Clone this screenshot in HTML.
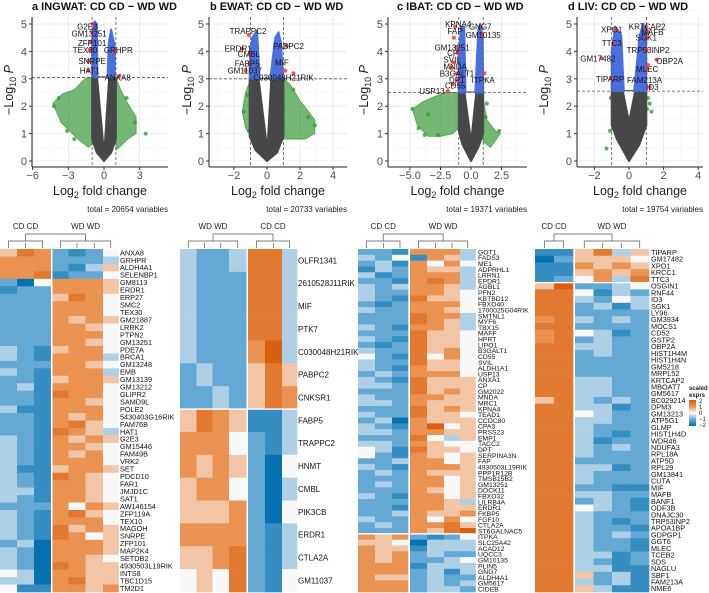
<!DOCTYPE html>
<html><head><meta charset="utf-8"><style>
html,body{margin:0;padding:0;background:#fff;}
svg{display:block;font-family:"Liberation Sans",Arial,sans-serif;}
</style></head><body>
<svg id="fig" width="709" height="593" viewBox="0 0 709 593" xmlns="http://www.w3.org/2000/svg"></svg>
<script>
// ---------- VOLCANO DATA ----------
const titlesV = ["a  INGWAT: CD CD \u2212 WD WD","b  EWAT: CD CD \u2212 WD WD","c  IBAT: CD CD \u2212 WD WD","d  LIV: CD CD \u2212 WD WD"];
const totalsV = ["total = 20654 variables","total = 20733 variables","total = 19371 variables","total = 19754 variables"];
const xTicksA = [-6,-3,0,3];
const xTicksB = [-2,0,2,4];
const xTicksC = [-5,-2.5,0,2.5];
const xTicksD = [-2,0,2,4];
const xTickLabelsC = ["\u22125.0","\u22122.5","0.0","2.5"];
const yTicks = [0,1,2,3,4,5];
const thresholds = [3.05,3.0,2.5,2.55];
const grayA = [[0,0],[-0.6,0.3],[-1,0.8],[-1,3.05],[1,3.05],[1,0.8],[0.6,0.3]];
const grayB = [[0,0],[-0.7,0.4],[-1.05,0.9],[-1.05,3.0],[1,3.0],[1,0.9],[0.6,0.3]];
const grayC = [[0,0],[-0.7,0.6],[-1,1.1],[-1,2.5],[1,2.5],[1,1.0],[0.6,0.5]];
const grayD = [[0,0],[-0.7,0.8],[-1,1.3],[-1,2.55],[1,2.55],[1,1.3],[0.6,0.6]];
const holeA = [[-0.5,3.05],[0,0.7],[0.35,3.05]];
const holeB = [[-0.45,3.0],[0,0.8],[0.2,3.0]];
const holeC = [[-0.45,2.5],[0,1.0],[0.35,2.5]];
const holeD = [[-0.3,2.55],[0,1.6],[0.3,2.55]];
const blueA = [[[-1,3.05],[-1,4.4],[-0.8,5.1],[-0.6,5.0],[-0.55,3.05]],[[0.3,3.05],[0.4,4.3],[0.6,4.8],[0.9,4.2],[0.9,3.05]]];
const blueB = [[[-1.05,3.0],[-1.05,3.6],[-0.9,4.5],[-0.6,4.75],[-0.45,3.0]],[[0.2,3.0],[0.5,4.5],[0.7,4.7],[0.85,4.3],[0.95,3.0]]];
const blueC = [[[-1,2.5],[-1,4.0],[-0.8,4.9],[-0.55,4.9],[-0.45,2.5]],[[0.35,2.5],[0.6,4.8],[0.75,5.0],[0.95,4.6],[1.0,2.5]]];
const blueD = [[[-1,2.55],[-1,4.0],[-0.8,4.9],[-0.45,4.6],[-0.3,2.55]],[[0.3,2.55],[0.6,4.5],[0.8,5.0],[1.0,4.8],[1.0,2.55]]];
const greenA = [[[-1,3.05],[-1.6,3.0],[-2.5,2.6],[-3.5,2.45],[-4.3,2.1],[-3.6,1.4],[-2.2,0.8],[-1.3,0.5],[-1,0.6]],[[1,3.05],[1.4,2.6],[2,2.1],[2.7,1.6],[2.7,1.0],[2,0.8],[1.3,0.5],[1,0.4]]];
const greenB = [[[-1.05,2.9],[-1.3,2.5],[-1.5,1.8],[-1.3,1.2],[-1.05,1.0]],[[1,3.0],[1.4,2.8],[2,2.2],[2.9,1.5],[2.9,1.0],[2.3,0.8],[1.5,0.8],[1,0.8]]];
const greenC = [[[-1,2.5],[-2,2.5],[-3,2.35],[-4,2.15],[-4.8,1.9],[-4.4,1.3],[-3.5,0.9],[-2.5,0.9],[-1.5,1.0],[-1,1.2]],[[1,2.3],[1.3,1.5],[2,1.1],[2.4,1.0],[1.6,0.5],[1,0.7]]];
const greenD = [];
const greenPtsA = [[-3.8,2.3],[-4.2,2.0],[-3.1,1.1],[3.5,1.0],[2.6,1.4],[-2.5,0.8],[1.9,2.3]];
const greenPtsB = [[-1.4,1.8],[-1.2,2.4],[2.9,1.3],[2.5,1.6],[1.6,2.6],[-1.1,1.1]];
const greenPtsC = [[-4.8,1.9],[-4.3,1.2],[-3.8,0.95],[-2.7,0.95],[2.3,1.1],[1.3,2.1],[1.2,1.6],[-3.5,1.7]];
const greenPtsD = [[-1.1,1.1],[-1.3,0.45],[1.1,2.3],[1.2,2.1],[1.3,1.8],[-1.05,2.3],[1.05,1.9]];
const labA = [["G2E3",-0.95,5.0,-1.4,4.9],["GM13251",-1.0,4.7,-1.25,4.65],["ZFP101",-1.1,4.35,-1.0,4.3],["TEX30",-1.2,4.05,-1.6,4.05],["GRHPR",0.9,4.0,1.2,4.05],["SNRPE",-1.3,3.65,-1.0,3.65],["HAT1",-1.3,3.3,-1.2,3.3],["ANXA8",1.3,3.1,1.15,3.05]];
const labB = [["TRAPPC2",-1.1,4.6,-1.15,4.75],["ERDR1",-1.5,4.1,-1.75,4.1],["CMBL",-1.05,3.9,-1.1,3.9],["FABP5",-1.05,3.55,-1.2,3.55],["GM11037",-1.3,3.3,-1.35,3.3],["PABPC2",1.2,4.2,1.3,4.2],["MIF",1.1,3.3,0.9,3.6],["C030048H21RIK",1.6,3.2,1.0,3.05]];
const labC = [["KPNA4",-1.3,4.9,-1.05,5.0],["FAP",-1.4,4.5,-1.3,4.75],["GNG7",0.8,4.9,0.75,4.9],["GM10135",0.9,4.6,1.0,4.6],["GM13251",-1.2,4.15,-1.55,4.15],["CP",-1.1,3.95,-1.5,3.95],["SVIL",-1.4,3.6,-1.55,3.7],["MNDA",-1.6,3.4,-1.3,3.45],["B3GALT1",-1.2,3.2,-1.15,3.2],["DPT",-1.1,2.95,-1.15,2.95],["ITPKA",1.1,3.2,1.0,2.95],["CD55",-1.5,2.8,-1.3,2.75],["USP13",-1.9,2.55,-3.2,2.55]];
const labD = [["XPO1",-0.8,4.8,-1.0,4.8],["KRTCAP2",1.0,4.9,1.05,4.9],["MAFB",1.1,4.7,1.35,4.7],["SGK1",1.0,4.5,1.0,4.5],["TTC3",-0.9,4.3,-1.0,4.3],["TRP53INP2",1.0,4.05,1.1,4.05],["GM17482",-1.6,3.75,-1.8,3.75],["OBP2A",1.6,3.7,2.35,3.65],["MLEC",1.05,3.35,1.05,3.35],["TIPARP",-1.0,3.0,-1.1,3.0],["FAM213A",1.1,3.5,0.9,2.95],["ID3",1.2,2.7,1.35,2.7]];

// ---------- HEATMAP DATA (digit d -> z = d/2 - 2) ----------
const genesA = ["ANXA8","GRHPR","ALDH4A1","SELENBP1","GM8113","ERDR1","ERP27","SMC2","TEX30","GM21887","LRRK2","PTPN2","GM13251","PDE7A","BRCA1","GM13248","EMB","GM13139","GM13212","GLIPR2","SAMD9L","POLE2","5430403G16RIK","FAM76B","HAT1","G2E3","GM15446","FAM49B","VRK2","SET","PDCD10","FAR1","JMJD1C","SAT1","AW146154","ZFP119A","TEX10","MAGOH","SNRPE","ZFP101","MAP2K4","SETDB2","4930503L19RIK","INTS8","TBC1D15","TM2D1"];
const valsA = ["5762124","6662223","6662135","6671224","2046665","1226665","2225764","2226664","2226664","2226565","2226654","2226664","2226654","3215664","3216663","2226654","3216663","2215665","2316664","2217664","2216654","3116664","2216564","2216754","2217653","3216565","3216654","3216564","3216664","3115665","3217654","3216654","3316654","3216654","2226465","3216754","3216664","3217565","3217645","2306665","3206665","3206654","3207655","4306655","3306755","4116656"];
const genesB = ["OLFR1341","2610528J11RIK","MIF","PTK7","C030048H21RIK","PABPC2","CNKSR1","FABP5","TRAPPC2","HNMT","CMBL","PIK3CB","ERDR1","CTLA2A","GM11037"];
const valsB = ["3223773","3222773","3222773","3222773","3222683","2322575","2232576","5765113","6664213","6565204","5664203","5556204","6666213","5567213","4547214"];
const genesC = ["GOT1","FADS3","ME1","ADPRHL1","LRRN1","EPDR1","AGBL1","PFN2","KBTBD12","FBXO40","1700025G04RIK","SMTNL1","MYF6","TBX15","MAFF","HPRT","LIPO1","B3GALT1","CD55","SVIL","ALDH1A1","USP13","ANXA1","CP","GM2022","MNDA","MRC1","KPNA4","TEAD1","CCDC80","CPA3","PRSS23","EMP1","TACC2","DPT","SERPINA3N","FAP","4930503L19RIK","PPP1R12B","TMSB15B2","GM13251","DOCK11","FBXO32","LILRB4A","ERDR1","FKBP5","FGF10","CTLA2A","ST6GALNAC5","ITPKA","SLC25A42","ACAD12","UQCC3","GM10135","PLIN5","GNG7","ALDH4A1","GM5617","CIDEB"];
const valsC = ["2216663","3241653","2316464","1326553","3126663","2216763","3236653","3226654","3217554","2126664","3226654","2227663","2227653","3216653","2227554","3217554","2127554","3227564","4217464","3227554","3216554","2326664","3217555","3327555","2227565","3226655","3326555","2227565","3227554","2306555","3216945","3326655","2227435","3326544","4317554","4216545","2236645","3216665","2326555","2226645","2326645","2226545","3216645","2226653","2216655","2236556","3226464","2326675","2226578","6562124","5540333","6551333","6562322","6562234","6661333","6662313","6552322","6662323","6662332"];
const genesD = ["TIPARP","GM17482","XPO1","KRCC1","TTC3","OSGIN1","RNF44","ID3","SGK1","LY96","GM3934","MOCS1","CD52","GSTP2","OBP2A","HIST1H4M","HIST1H4N","GM5218","MRPL52","KRTCAP2","MBOAT7","GM5617","BC029214","DPM3","GM13213","ATP5G1","GLMP","HIST1H4D","WDR46","NDUFA3","RPL18A","ATP5D","RPL29","GM13841","CUTA","MIF","MAFB","BANF1","ODF3B","DNAJC30","TRP53INP2","APOA1BP","GDPGP1","GGT6","MLEC","TCEB2","SDS","NAGLU","SBF1","FAM213A","NME6"];
const valsD = ["115735","025554","116565","115656","124637","582234","774132","773243","772313","772222","673232","772222","674312","672322","773322","772322","772222","772222","772222","773322","773322","773322","573232","773312","774322","773322","773222","773212","773122","773232","773222","772222","773312","773222","773222","772211","773322","772321","774321","773222","773212","773221","773232","773221","773221","773312","773212","773311","775231","773231","775311"];

// ---------- HELPERS ----------
const NS="http://www.w3.org/2000/svg";
const svg=document.getElementById('fig');
function mk(tag,attrs,parent){const e=document.createElementNS(NS,tag);for(const k in attrs)e.setAttribute(k,attrs[k]);(parent||svg).appendChild(e);return e;}
function tx(str,attrs,parent){const e=mk('text',attrs,parent);e.textContent=str;return e;}

const panels=[
 {x0:104,ux:11.9,left:32,right:168,ticks:xTicksA,tl:null,gray:grayA,hole:holeA,blue:blueA,green:greenA,gp:greenPtsA,lab:labA,tx:32,yl:11},
 {x0:267,ux:16.5,left:209,right:347,ticks:xTicksB,tl:null,gray:grayB,hole:holeB,blue:blueB,green:greenB,gp:greenPtsB,lab:labB,tx:210,yl:189},
 {x0:471,ux:12.2,left:388,right:527,ticks:xTicksC,tl:xTickLabelsC,gray:grayC,hole:holeC,blue:blueC,green:greenC,gp:greenPtsC,lab:labC,tx:397,yl:366},
 {x0:629,ux:17.3,left:577,right:703,ticks:xTicksD,tl:null,gray:grayD,hole:holeD,blue:blueD,green:greenD,gp:greenPtsD,lab:labD,tx:568,yl:546}
];
const Y0=161,UY=27.4,TOP=17,BOT=167;
panels.forEach((p,i)=>{
 const g=mk('g',{});
 
 
 const X=v=>p.x0+v*p.ux, Y=v=>Y0-v*UY;
 const step=0.5*(p.ticks[1]-p.ticks[0]);
 for(let v=p.ticks[0]-2*step; X(v)<=p.right; v+=step){
   if(X(v)<p.left)continue;
   const major=Math.abs(Math.round(v/(2*step))*2*step-v)<1e-6;
   mk('line',{x1:X(v),x2:X(v),y1:TOP,y2:BOT,stroke:major?'#e6e6e6':'#f2f2f2','stroke-width':major?0.8:0.5},g);
 }
 for(let v=0;v<=5.5;v+=0.5){const major=Number.isInteger(v);
   mk('line',{x1:p.left,x2:p.right,y1:Y(v),y2:Y(v),stroke:major?'#e6e6e6':'#f2f2f2','stroke-width':major?0.8:0.5},g);}
 const poly=(pts,fill,op,sw)=>mk('polygon',{points:pts.map(q=>X(q[0])+','+Y(q[1])).join(' '),fill:fill,'fill-opacity':op,stroke:fill,'stroke-width':sw,'stroke-opacity':op,'stroke-linejoin':'round'},g);
 p.green.forEach(s=>{const e=poly(s,'#3a9a3a',0.7,1);});
 p.gp.forEach(q=>{const c=mk('circle',{cx:X(q[0]),cy:Y(q[1]),r:2,fill:'#3a9a3a','fill-opacity':0.8},g);});
 const gr=poly(p.gray,'#474747',1,2);
 poly(p.hole,'#ffffff',1,0);
 p.blue.forEach(s=>{const e=poly(s,'#4a6fe0',1,2);});
 const th=thresholds[i];
 mk('line',{x1:p.left,x2:p.right,y1:Y(th),y2:Y(th),stroke:'#555','stroke-width':0.8,'stroke-dasharray':'3,2'},g);
 [-1,1].forEach(v=>mk('line',{x1:X(v),x2:X(v),y1:TOP,y2:BOT,stroke:'#555','stroke-width':0.8,'stroke-dasharray':'3,2'},g));
 p.lab.forEach(l=>{
   const c=mk('circle',{cx:X(l[1]),cy:Y(l[2]),r:2,fill:'#ff3030','fill-opacity':0.85},g);
   
   const t=tx(l[0],{x:X(l[3]),y:Y(l[4])+3,'font-size':8,'text-anchor':'middle',fill:'#111'},g);
   
 });
 mk('line',{x1:p.left,x2:p.left,y1:TOP,y2:BOT,stroke:'#222','stroke-width':1},g);
 mk('line',{x1:p.left,x2:p.right,y1:BOT,y2:BOT,stroke:'#222','stroke-width':1},g);
 yTicks.forEach(v=>{mk('line',{x1:p.left-3,x2:p.left,y1:Y(v),y2:Y(v),stroke:'#333'},g);
   const t=tx(String(v),{x:p.left-5,y:Y(v)+4,'font-size':11,'text-anchor':'end',fill:'#4d4d4d'},g);
   });
 p.ticks.forEach((v,k)=>{mk('line',{x1:X(v),x2:X(v),y1:BOT,y2:BOT+3,stroke:'#333'},g);
   const lab=p.tl?p.tl[k]:(v<0?'\u2212'+(-v):String(v));
   const t=tx(lab,{x:X(v),y:BOT+12,'font-size':11,'text-anchor':'middle',fill:'#4d4d4d'},g);
   });
 const xt=tx('',{x:(p.left+p.right)/2,y:195,'font-size':12.5,'text-anchor':'middle',fill:'#222'},g);
 xt.innerHTML='Log<tspan font-size="9" dy="3">2</tspan><tspan dy="-3"> fold change</tspan>';
 
 const yt=tx('',{x:0,y:0,'font-size':12.5,'text-anchor':'middle',fill:'#222',transform:`translate(${p.yl+2},90) rotate(-90)`},g);
 yt.innerHTML='\u2212Log<tspan font-size="9" dy="3">10</tspan><tspan dy="-3" font-style="italic"> P</tspan>';
 
 const tt=tx(titlesV[i],{x:p.tx,y:10,'font-size':11,'font-weight':'bold',fill:'#111'},g);
 
 const tot=tx(totalsV[i],{x:p.right,y:212,'font-size':8,'text-anchor':'end',fill:'#222'},g);
 
});

// ---------- HEATMAPS ----------
function col(z){
 const stops=[[-2,[5,113,176]],[-1,[100,168,212]],[0,[248,248,248]],[1,[234,146,82]],[2,[217,95,14]]];
 z=Math.max(-2,Math.min(2,z));
 for(let k=0;k<4;k++){const a=stops[k],b=stops[k+1];if(z<=b[0]){const t=(z-a[0])/(b[0]-a[0]);
   return 'rgb('+a[1].map((c,j)=>Math.round(c+(b[1][j]-c)*t)).join(',')+')';}}
}
const heat=[
 {name:'a',genes:genesA,vals:valsA,cols:[[0,17],[17,17],[34,17],[52.5,16],[68.5,17],[85.5,17.5],[103,15.5]],split:null,labX:120,groups:[["CD CD",0,3],["WD WD",3,7]],fs:7.3},
 {name:'b',genes:genesB,vals:valsB,cols:[[180,16.5],[196.5,16],[212.5,16.5],[229,17.5],[248,17],[265,17],[282,15]],split:7,labX:298,groups:[["WD WD",0,4],["CD CD",4,7]],fs:8},
 {name:'c',genes:genesC,vals:valsC,cols:[[358,17],[375,17],[392,16],[410,17],[427,17],[444,16],[460,15.5]],split:49,labX:478,groups:[["CD CD",0,3],["WD WD",3,7]],fs:6.8},
 {name:'d',genes:genesD,vals:valsD,cols:[[535,19],[554,19],[575,18.5],[593.5,18.5],[612,18.5],[630.5,18.5]],split:5,labX:651,groups:[["CD CD",0,2],["WD WD",2,6]],fs:7.3}
];
heat.forEach(h=>{
 const g=mk('g',{});
 
 
 const top=249,bot=592,n=h.genes.length,rh=(bot-top)/n;
 const cols=h.cols,nc=cols.length;
 h.vals.forEach((row,r)=>{
   const yy=top+r*rh;
   for(let c=0;c<nc;c++){
     const z=parseInt(row[c])/2-2;
     const rc=mk('rect',{x:cols[c][0],y:yy,width:cols[c][1]+0.3,height:rh+0.3,fill:col(z)},g);
     
     
   }
   const t=tx(h.genes[r],{x:h.labX,y:yy+rh/2+(h.fs/2.8),'font-size':h.fs,fill:'#111'},g);
   
   
 });
 const gp0=h.groups[0][2];
 mk('rect',{x:cols[gp0][0]-1.5,y:top,width:1.5,height:bot-top,fill:'#fff'},g);
 if(h.split!==null) mk('rect',{x:cols[0][0],y:top+h.split*rh-0.7,width:cols[nc-1][0]+cols[nc-1][1]-cols[0][0],height:1.4,fill:'#fff'},g);
 const cen=c=>cols[c][0]+cols[c][1]/2;
 const gm=[];
 h.groups.forEach(gp=>{
   const a=cen(gp[1]),b=cen(gp[2]-1);gm.push((a+b)/2);
   mk('path',{d:`M${a},248 V241 H${b} V248`,fill:'none',stroke:'#555','stroke-width':0.7},g);
   for(let c=gp[1]+1;c<gp[2]-1;c++) mk('line',{x1:cen(c),x2:cen(c),y1:248,y2:243,stroke:'#555','stroke-width':0.7},g);
   const t=tx(gp[0],{x:(a+b)/2,y:229,'font-size':8,'text-anchor':'middle',fill:'#222'},g);
   
 });
 mk('path',{d:`M${gm[0]},241 V234 H${gm[1]} V241`,fill:'none',stroke:'#555','stroke-width':0.7},g);
});
const lg=mk('g',{});


tx('scaled',{x:689,y:390,'font-size':6,'font-weight':'bold',fill:'#222'},lg);
tx('exprs',{x:689,y:397,'font-size':6,'font-weight':'bold',fill:'#222'},lg);
const defs=mk('defs',{});
const lgr=mk('linearGradient',{id:'lgrad',x1:0,y1:0,x2:0,y2:1},defs);
[2,1,0,-1,-2].forEach((z,k)=>mk('stop',{offset:(k/4),'stop-color':col(z)},lgr));
mk('rect',{x:689,y:400,width:7,height:26,fill:'url(#lgrad)'},lg);
["2","1","0","\u22121","\u22122"].forEach((s,k)=>tx(s,{x:699,y:403+k*6,'font-size':6,fill:'#222'},lg));
</script>
</body></html>
